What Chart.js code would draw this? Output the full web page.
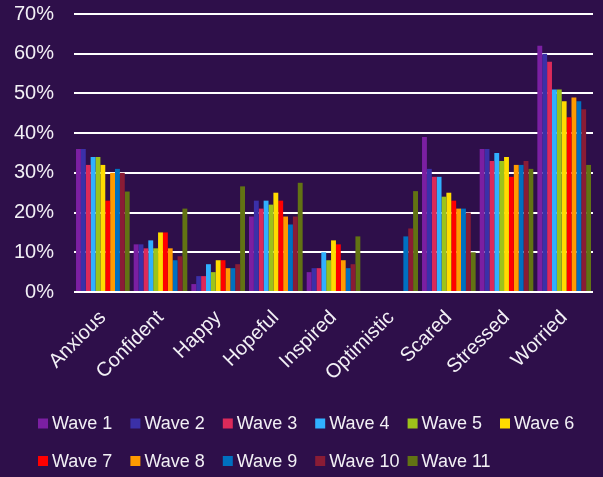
<!DOCTYPE html>
<html>
<head>
<meta charset="utf-8">
<script src="https://cdn.jsdelivr.net/npm/chart.js@4.4.1/dist/chart.umd.min.js"></script>
<style>
  html, body { margin: 0; padding: 0; background: #2e0f4a; }
  #wrap { width: 603px; height: 477px; }
</style>
</head>
<body>
<div id="wrap"><canvas id="c" width="603" height="477"></canvas></div>
<script>
// Emotions reported, share of respondents per survey wave
const categories = ['Anxious', 'Confident', 'Happy', 'Hopeful', 'Inspired', 'Optimistic', 'Scared', 'Stressed', 'Worried'];
const waveNames = ['Wave 1', 'Wave 2', 'Wave 3', 'Wave 4', 'Wave 5', 'Wave 6', 'Wave 7', 'Wave 8', 'Wave 9', 'Wave 10', 'Wave 11'];
const waveColors = ['#7b1fa2', '#3b30a8', '#dc2a5a', '#30b0ff', '#9dc31a', '#ffdc00', '#ff0000', '#ff9a00', '#0070c0', '#8a1c35', '#627313'];

const wave1  = [36, 12, 2, 19, 5, null, 39, 36, 62];
const wave2  = [36, 12, 4, 23, 6, null, 31, 36, 60];
const wave3  = [32, 11, 4, 21, 6, null, 29, 33, 58];
const wave4  = [34, 13, 7, 23, 10, null, 29, 35, 51];
const wave5  = [34, 11, 5, 22, 8, null, 24, 33, 51];
const wave6  = [32, 15, 8, 25, 13, null, 25, 34, 48];
const wave7  = [23, 15, 8, 23, 12, null, 23, 29, 44];
const wave8  = [30, 11, 6, 19, 8, null, 21, 32, 49];
const wave9  = [31, 8, 6, 17, 6, 14, 21, 32, 48];
const wave10 = [30, 9, 7, 19, 7, 16, 20, 33, 46];
const wave11 = [25.3, 21, 26.6, 27.5, 14, 25.4, 10, 31, 32];

const yTicks = [0, 10, 20, 30, 40, 50, 60, 70];

const waveValues = [wave1, wave2, wave3, wave4, wave5, wave6, wave7, wave8, wave9, wave10, wave11];

const textColor = '#f2f0f5';
const fontFamily = '"Liberation Sans", Arial, sans-serif';

// Legend laid out on a fixed column grid under the axis labels
const gridLegend = {
  id: 'gridLegend',
  afterDraw(chart) {
    const ctx = chart.ctx;
    const colW = 92.4, startX = 38, rowY = [423.5, 461], box = 10, perRow = 6;
    ctx.save();
    ctx.font = '18px ' + fontFamily;
    ctx.textBaseline = 'middle';
    ctx.textAlign = 'left';
    chart.data.datasets.forEach((ds, i) => {
      const col = i % perRow, row = Math.floor(i / perRow);
      const x = startX + col * colW, y = rowY[row];
      ctx.fillStyle = ds.backgroundColor;
      ctx.fillRect(x, y - box / 2, box, box);
      ctx.fillStyle = textColor;
      ctx.fillText(ds.label, x + box + 4, y + 1);
    });
    ctx.restore();
  }
};

new Chart(document.getElementById('c'), {
  type: 'bar',
  data: {
    labels: categories,
    datasets: waveNames.map((name, i) => ({
      label: name,
      data: waveValues[i],
      backgroundColor: waveColors[i],
      borderWidth: 0,
      categoryPercentage: 0.93,
      barPercentage: 1.0
    }))
  },
  options: {
    responsive: false,
    animation: false,
    layout: { padding: { top: 14, right: 10, left: 0, bottom: 0 } },
    plugins: {
      legend: { display: false },
      tooltip: { enabled: false }
    },
    scales: {
      x: {
        grid: { display: false, drawTicks: false },
        border: { display: false },
        ticks: {
          color: textColor,
          font: { family: fontFamily, size: 20 },
          maxRotation: 45,
          minRotation: 45,
          padding: 14,
          autoSkip: false
        },
        afterFit(scale) {
          scale.height = 185;
          scale.paddingLeft = 0;
          scale.paddingRight = 0;
        }
      },
      y: {
        min: 0,
        max: 70,
        afterBuildTicks(scale) { scale.ticks = yTicks.map(v => ({ value: v })); },
        grid: { color: '#ffffff', lineWidth: 2, drawTicks: false },
        border: { display: false },
        ticks: {
          color: textColor,
          font: { family: fontFamily, size: 20 },
          padding: 20,
          callback: v => v + '%'
        },
        afterFit(scale) {
          scale.width = 74;
          scale.paddingTop = 0;
          scale.paddingBottom = 0;
        }
      }
    }
  },
  plugins: [gridLegend]
});
</script>
</body>
</html>
